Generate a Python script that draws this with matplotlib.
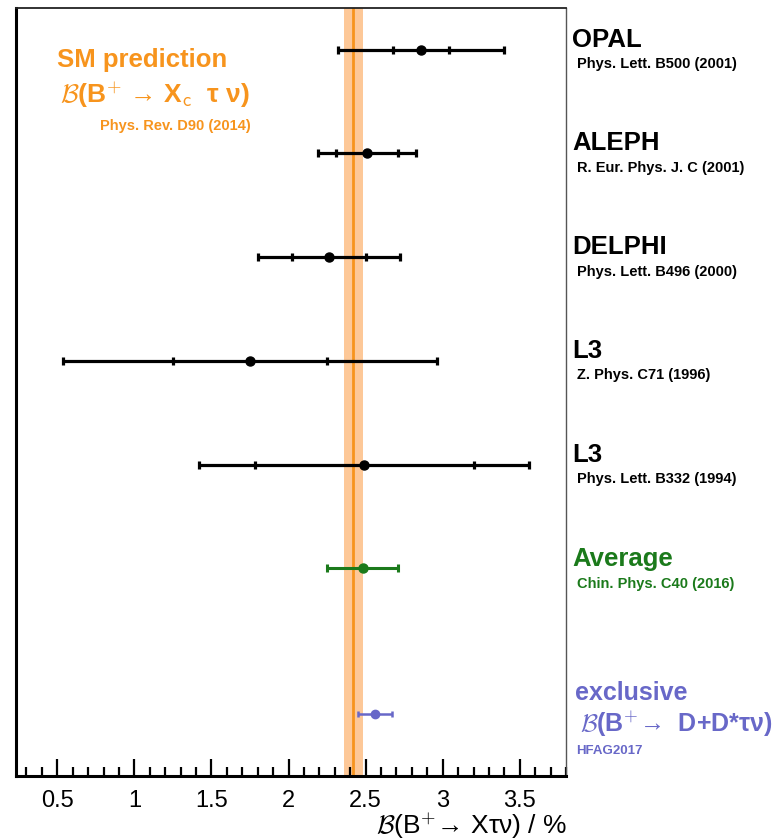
import matplotlib.pyplot as plt
from matplotlib.ticker import MultipleLocator

plt.rcParams['font.family'] = ['Liberation Sans', 'DejaVu Sans']

# measurements, B(B+ -> X tau nu) in %
experiments = ['OPAL', 'ALEPH', 'DELPHI', 'L3', 'L3']
references = ['Phys. Lett. B500 (2001)', 'R. Eur. Phys. J. C (2001)',
              'Phys. Lett. B496 (2000)', 'Z. Phys. C71 (1996)',
              'Phys. Lett. B332 (1994)']
values = [2.86, 2.51, 2.26, 1.75, 2.49]
stat_err = [0.18, 0.20, 0.24, 0.50, 0.71]
tot_err = [0.54, 0.32, 0.46, 1.21, 1.07]
rows = [0, 1, 2, 3, 4]

avg_value = 2.48
avg_err = 0.23
avg_row = 5

excl_value = 2.56
excl_err = 0.11
excl_row = 6.4

sm_value = 2.42
sm_err = 0.06

orange = '#f7941d'
band = '#fdc898'
green = '#1b7a1b'
purple = '#6868c8'

W, H = 777, 840
fig = plt.figure(figsize=(W / 100, H / 100), dpi=100)
ax = fig.add_axes([16 / W, 1 - 776 / H, 550 / W, 768 / H])

ax.axvspan(sm_value - sm_err, sm_value + sm_err, color=band, lw=0, zorder=1)
ax.axvline(sm_value, color=orange, lw=2, zorder=2)

ax.errorbar(values, rows, xerr=tot_err, fmt='o', color='black', ms=6.5,
            elinewidth=2.3, capsize=2.6, capthick=2.3, zorder=3)
ax.errorbar(values, rows, xerr=stat_err, fmt='none', ecolor='black',
            elinewidth=0, capsize=2.6, capthick=2.3, zorder=3)
ax.errorbar([avg_value], [avg_row], xerr=[avg_err], fmt='o', color=green, ms=6.5,
            elinewidth=2.2, capsize=2.6, capthick=2.2, zorder=3)
ax.errorbar([excl_value], [excl_row], xerr=[excl_err], fmt='o', color=purple, ms=6,
            elinewidth=1.8, capsize=2.4, capthick=1.8, zorder=3)

for i in range(len(experiments)):
    ax.annotate(experiments[i], xy=(1, rows[i]), xycoords=('axes fraction', 'data'),
                xytext=(4.3, 7.2), textcoords='offset points', fontsize=18.5,
                fontweight='bold', va='center', ha='left', annotation_clip=False)
    ax.annotate(references[i], xy=(1, rows[i]), xycoords=('axes fraction', 'data'),
                xytext=(8, -10.5), textcoords='offset points', fontsize=10.5,
                fontweight='bold', va='center', ha='left', annotation_clip=False)

ax.annotate('Average', xy=(1, avg_row), xycoords=('axes fraction', 'data'),
            xytext=(4.3, 6.5), textcoords='offset points', fontsize=18.5,
            fontweight='bold', color=green, va='center', ha='left', annotation_clip=False)
ax.annotate('Chin. Phys. C40 (2016)', xy=(1, avg_row), xycoords=('axes fraction', 'data'),
            xytext=(8, -11.5), textcoords='offset points', fontsize=10.5,
            fontweight='bold', color=green, va='center', ha='left', annotation_clip=False)

# exclusive label block
fig.text(575 / W, 1 - 693 / H, 'exclusive', fontsize=18, fontweight='bold',
         color=purple, va='center', ha='left')
fig.text(580 / W, 1 - 724 / H, r'$\mathcal{B}$(B$^{+}$→  D+D*τν)', fontsize=18,
         fontweight='bold', color=purple, va='center', ha='left', math_fontfamily='cm')
fig.text(576 / W, 1 - 751 / H, 'HFAG2017', fontsize=9.5, fontweight='bold',
         color=purple, va='center', ha='left')

# SM prediction block
fig.text(57 / W, 1 - 60 / H, 'SM prediction', fontsize=18.5, fontweight='bold',
         color=orange, va='center', ha='left')
fig.text(60 / W, 1 - 95 / H, r'$\mathcal{B}$(B$^{+}$ → X$_{\mathsf{c}}$  τ ν)',
         fontsize=19, fontweight='bold', color=orange, va='center', ha='left',
         math_fontfamily='cm')
fig.text(100 / W, 1 - 126 / H, 'Phys. Rev. D90 (2014)', fontsize=10.5,
         fontweight='bold', color=orange, va='center', ha='left')

ax.set_xlim(0.232, 3.8)
ax.set_ylim(7.0, -0.4)
ax.xaxis.set_minor_locator(MultipleLocator(0.1))
ax.set_xticks([0.5, 1, 1.5, 2, 2.5, 3, 3.5])
ax.set_xticklabels(['0.5', '1', '1.5', '2', '2.5', '3', '3.5'])
ax.tick_params(axis='x', which='major', direction='in', length=12.5, width=1.6,
               labelsize=17, pad=10)
ax.tick_params(axis='x', which='minor', direction='in', length=6.5, width=1.6)
ax.set_yticks([])

ax.spines['left'].set_linewidth(2.2)
ax.spines['bottom'].set_linewidth(2.2)
ax.spines['top'].set_linewidth(1.3)
ax.spines['top'].set_color('#222222')
ax.spines['right'].set_linewidth(1.0)
ax.spines['right'].set_color('#555555')

fig.text(567 / W, 1 - 826 / H, r'$\mathcal{B}$(B$^{+}$→ Xτν) / %', fontsize=19,
         va='center', ha='right', math_fontfamily='cm')

fig.savefig('out.png', dpi=100)
